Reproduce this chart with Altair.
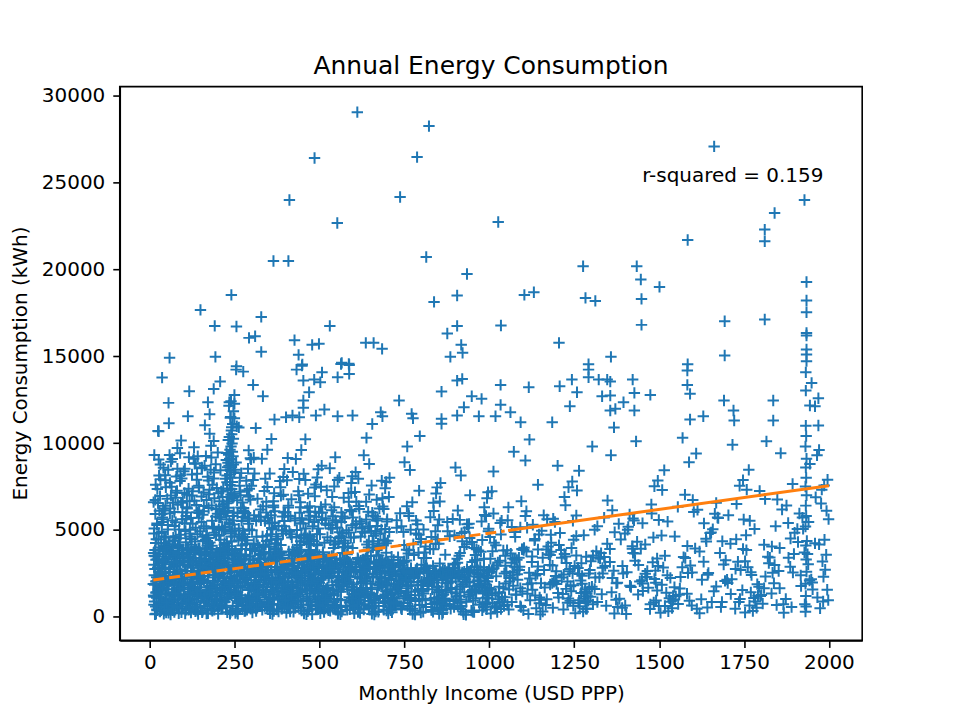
import altair as alt
import pandas as pd

# individually readable points, upper part of the plot (income, kWh)
upper_pts = [
    (611, 29040), (822, 28236), (485, 26400), (787, 26455), (411, 23983), (737, 24155),
    (552, 22661), (364, 20477), (408, 20477), (814, 20707), (934, 19730), (240, 18523),
    (905, 18487), (837, 18120), (149, 17661), (191, 16741), (255, 16705), (328, 17259),
    (530, 16741), (905, 16741), (876, 16303), (292, 16052), (310, 16149), (426, 15920),
    (478, 15650), (498, 15707), (636, 15765), (659, 15765), (684, 15420), (917, 15650),
    (921, 15190), (885, 14960), (58, 14903), (193, 14960), (328, 15247), (438, 15075),
    (449, 14520), (565, 14615), (586, 14557), (255, 14425),
    (1662, 27069), (1928, 23983), (1840, 23236), (1811, 22282), (1811, 21609), (1026, 22718),
    (1584, 21684), (1276, 20172), (1434, 20172), (1446, 19408), (1501, 18983), (1934, 19270),
    (1103, 18523), (1131, 18678), (1283, 18351), (1312, 18178), (1448, 18293), (1934, 18201),
    (1934, 17529), (1034, 16764), (1448, 16800), (1693, 17011), (1811, 17109), (1934, 16339),
    (1934, 16190), (1205, 15765), (1358, 14960), (1693, 15040), (1934, 15385), (1934, 15098),
    (1934, 14713), (1292, 14540), (1584, 14540),
]

mid_pts = [
    (36, 13766), (254, 14225), (275, 14110), (207, 13536), (188, 13116), (304, 13346),
    (116, 12979), (333, 12692), (249, 12772), (55, 12312), (171, 12347), (234, 12347),
    (249, 12255), (112, 11543), (176, 11658), (249, 11428), (56, 11141), (26, 10682),
    (241, 10912), (256, 10969), (432, 14225), (448, 14455), (452, 13594), (484, 13651),
    (502, 13497), (507, 14070), (469, 12921), (452, 12445), (452, 12025), (514, 11929),
    (563, 14551), (587, 14494), (587, 13978), (553, 13785), (734, 12445), (771, 11681),
    (775, 11428), (680, 11773), (685, 11543), (597, 11583), (553, 11543), (489, 11583),
    (401, 11486), (420, 11583), (440, 11486), (367, 11354), (859, 12962), (905, 13594),
    (920, 13691), (948, 12692), (977, 12543), (925, 12060), (905, 11583), (969, 11543),
    (859, 11394), (859, 11107),
    (1292, 14225), (1292, 13783), (1322, 13651), (1347, 13651), (1356, 13536), (1422, 13651),
    (1243, 13651), (1207, 13266), (1116, 13209), (1033, 13346), (1583, 14168), (1583, 13346),
    (1591, 12830), (1474, 12772), (1427, 12887), (1356, 12732), (1332, 12692), (1258, 12921),
    (1237, 12117), (1033, 12198), (1062, 11773), (1018, 11543), (1092, 11199), (1395, 12347),
    (1371, 11968), (1427, 11871), (1356, 11871), (1691, 12445), (1719, 11871), (1721, 11296),
    (1630, 11543), (1591, 11354), (1836, 12445), (1836, 11296), (1932, 14070), (1932, 13019),
    (1949, 13461), (1969, 12577), (1944, 12158), (1959, 12117), (1969, 11009),
]

# dense lower part, estimated band by band
band_a = [
    (12, 1150), (15, 150), (18, 2040), (21, 420), (24, 1580), (27, 760), (30, 310), (33, 520),
    (36, 2610), (39, 890), (42, 3120), (45, 1330), (48, 240), (11, 3680), (14, 1840), (17, 4250),
    (20, 2280), (23, 610), (26, 4830), (29, 2950), (32, 1040), (35, 5460), (38, 3470), (41, 180),
    (44, 6120), (47, 3890), (13, 5080), (16, 6730), (19, 1420), (22, 7350), (25, 4450), (28, 350),
    (31, 7920), (34, 2400), (37, 5710), (40, 8580), (43, 1960), (46, 6390), (49, 950), (13, 9310),
    (18, 3290), (24, 10700), (30, 6950), (36, 470), (42, 4620), (47, 7460), (15, 2760), (21, 5370),
    (27, 8130), (33, 1690), (39, 3940), (45, 2170), (12, 700), (20, 1100), (28, 1500), (37, 2830),
    (44, 360), (26, 9050), (50, 4060), (16, 5920),
]
band_b = [
    (52, 1790), (55, 230), (58, 2330), (61, 680), (64, 1210), (67, 380), (70, 2890), (73, 940),
    (76, 3450), (79, 1560), (82, 4070), (85, 210), (88, 2160), (91, 4720), (94, 1030), (97, 3260),
    (53, 5280), (56, 2580), (59, 5940), (62, 560), (65, 3810), (68, 6570), (71, 1380), (74, 4390),
    (77, 7140), (80, 2720), (83, 830), (86, 5030), (89, 7810), (92, 1920), (95, 5610), (98, 3590),
    (54, 8460), (57, 1010), (60, 6240), (63, 3020), (66, 9080), (69, 4560), (72, 270), (75, 6860),
    (78, 1650), (81, 9720), (84, 3980), (87, 480), (90, 8150), (93, 2470), (96, 6020), (99, 1240),
    (58, 4180), (71, 2050), (83, 1500), (95, 760), (64, 7490), (88, 3370), (76, 5450), (61, 130),
    (92, 10150), (68, 2210), (80, 3050), (55, 1870),
]
band_c = [
    (101, 1860), (104, 190), (107, 2450), (110, 740), (113, 3570), (116, 1290), (119, 430),
    (122, 4150), (125, 980), (128, 3010), (131, 1620), (134, 320), (137, 2190), (140, 4760),
    (143, 1180), (146, 3360), (149, 580), (102, 5380), (105, 2640), (108, 6010), (111, 870),
    (114, 3880), (117, 6650), (120, 1450), (123, 4470), (126, 7230), (129, 2830), (132, 690),
    (135, 5120), (138, 7890), (141, 2010), (144, 5700), (147, 3650), (103, 8520), (106, 1070),
    (109, 6310), (112, 3140), (115, 9180), (118, 4630), (121, 240), (124, 6980), (127, 1710),
    (130, 9760), (133, 4020), (136, 530), (139, 8230), (142, 2520), (145, 6120), (148, 1340),
    (110, 2280), (122, 1900), (134, 1550), (146, 2370), (118, 5010), (128, 3210), (140, 360),
    (106, 4290), (132, 8810), (144, 7540), (113, 1020),
]
band_d = [
    (151, 1930), (154, 260), (157, 2510), (160, 810), (163, 3640), (166, 1370), (169, 470),
    (172, 4230), (175, 1050), (178, 3080), (181, 1700), (184, 350), (187, 2260), (190, 4840),
    (193, 1240), (196, 3430), (199, 640), (152, 5460), (155, 2700), (158, 6080), (161, 930),
    (164, 3950), (167, 6720), (170, 1520), (173, 4540), (176, 7310), (179, 2900), (182, 750),
    (185, 5190), (188, 7960), (191, 2080), (194, 5780), (197, 3720), (153, 8600), (156, 1130),
    (159, 6380), (162, 3210), (165, 9250), (168, 4700), (171, 200), (174, 7050), (177, 1780),
    (180, 9840), (183, 4090), (186, 590), (189, 8310), (192, 2590), (195, 6190), (198, 1410),
    (158, 2350), (170, 1960), (182, 1600), (194, 2420), (166, 5080), (178, 3280), (190, 410),
    (156, 4360), (176, 10540), (188, 10120), (162, 11030), (184, 7600), (198, 2980), (174, 1180),
    (160, 3540),
]
band_e = [
    (201, 180), (224, 550), (209, 920), (238, 1290), (215, 1660), (246, 2030), (203, 2400),
    (231, 2770), (219, 3140), (242, 3510), (207, 3880), (227, 4250), (249, 4620), (212, 4990),
    (235, 5360), (204, 5730), (229, 6100), (217, 6470), (244, 6840), (210, 7210), (236, 7580),
    (222, 7950), (248, 8320), (233, 8690), (240, 9060), (226, 9430), (239, 9800), (231, 10170),
    (243, 360), (206, 730), (228, 1100), (249, 1470), (213, 1840), (237, 2210), (202, 2580),
    (225, 2950), (245, 3320), (218, 3690), (234, 4060), (208, 4430), (241, 4800), (221, 5170),
    (247, 5540), (211, 5910), (232, 6280), (205, 6650), (239, 7020), (216, 7390), (243, 7760),
    (227, 8130), (237, 8500), (230, 8870), (245, 9240), (236, 9610), (242, 9980), (234, 10350),
    (240, 10720), (244, 11090), (237, 11460), (246, 11830), (233, 12150), (239, 12400),
    (223, 1950), (207, 3420), (240, 4900), (214, 6360), (248, 2120), (230, 3600), (203, 5050),
    (226, 6540), (237, 260), (211, 1540), (244, 2850), (219, 4150), (234, 5420), (249, 7100),
    (238, 8400), (204, 590), (232, 1810), (216, 3050), (241, 4330), (226, 5600), (247, 6900),
    (235, 8200), (210, 480), (228, 1720), (246, 2990), (220, 4260), (243, 9500), (212, 700),
    (236, 1380), (202, 2290), (241, 10500), (238, 11500), (246, 10250), (235, 9100), (229, 7280),
    (214, 3960),
]
band_f = [
    (252, 220), (275, 690), (260, 1240), (288, 1810), (255, 2380), (297, 460), (268, 2960),
    (281, 1020), (258, 3520), (292, 1580), (271, 4110), (253, 300), (285, 2150), (264, 4720),
    (299, 1190), (277, 3310), (256, 620), (290, 5350), (269, 2600), (282, 5970), (261, 880),
    (295, 3840), (273, 6580), (254, 1430), (287, 4410), (266, 7200), (279, 2790), (298, 740),
    (262, 5080), (284, 7830), (257, 2000), (293, 5660), (270, 3590), (251, 8470), (289, 1090),
    (276, 6260), (263, 3080), (296, 9120), (280, 4590), (259, 170), (291, 6920), (272, 1670),
    (286, 400), (265, 8000), (294, 2480), (278, 6030), (253, 1350), (283, 2200), (267, 1750),
    (300, 2640), (274, 4950), (258, 3170), (291, 9580), (262, 10900), (284, 440), (270, 5520),
]
band_g = [
    (302, 250), (347, 720), (318, 1280), (371, 1850), (335, 2420), (389, 480), (308, 3000),
    (362, 1060), (326, 3560), (395, 1620), (341, 4150), (313, 330), (378, 2190), (356, 4760),
    (321, 1230), (384, 3350), (305, 640), (352, 5390), (331, 2640), (398, 6010), (316, 900),
    (367, 3870), (343, 6620), (310, 1470), (375, 4450), (337, 7240), (391, 2830), (324, 770),
    (359, 5110), (304, 7880), (381, 2040), (348, 5700), (329, 3630), (396, 8510), (314, 1110),
    (364, 6300), (339, 3120), (306, 9160), (372, 4630), (354, 210), (386, 6960), (319, 1710),
    (345, 560), (393, 8040), (311, 2520), (368, 6070), (333, 1380), (380, 2260), (323, 1790),
    (357, 2680), (301, 4990), (376, 3200), (346, 9620), (312, 10860), (388, 470), (327, 5560),
    (361, 160), (394, 1000), (315, 1540), (350, 2090), (383, 2450), (336, 3700), (369, 4210),
    (303, 880), (374, 3870), (342, 1440), (399, 1980), (320, 2820), (365, 340), (330, 9100),
    (385, 7460), (353, 8250), (307, 5840), (379, 5230), (344, 4370), (317, 6790), (392, 4780),
    (325, 2960), (360, 3420), (387, 1200), (338, 590), (370, 2730), (309, 3780), (355, 1920),
    (397, 3020), (332, 4620), (363, 1520), (377, 690), (349, 3260), (322, 980), (390, 5780),
    (340, 7950), (366, 7110), (358, 10240), (328, 2300), (382, 2060), (351, 4040), (373, 1660),
    (334, 1850), (319, 3350), (396, 2330), (305, 1790), (361, 5030), (386, 4130), (344, 820),
]
band_h = [
    (402, 230), (447, 690), (418, 1260), (471, 1830), (435, 2400), (489, 450), (408, 2980),
    (462, 1040), (426, 3540), (495, 1600), (441, 4130), (413, 300), (478, 2170), (456, 4740),
    (421, 1210), (484, 3330), (405, 620), (452, 5370), (431, 2620), (498, 5990), (416, 880),
    (467, 3850), (443, 6600), (410, 1450), (475, 4430), (437, 7220), (491, 2810), (424, 750),
    (459, 5090), (404, 7860), (481, 2020), (448, 5680), (429, 3610), (496, 8490), (414, 1090),
    (464, 6280), (439, 3100), (406, 9140), (472, 4610), (454, 190), (486, 6940), (419, 1690),
    (445, 540), (493, 8020), (411, 2500), (468, 6050), (433, 1360), (480, 2240), (423, 1770),
    (457, 2660), (401, 4970), (476, 3180), (446, 9600), (412, 480), (488, 870), (427, 5540),
    (461, 150), (494, 980), (415, 1520), (450, 2070), (483, 2430), (436, 3680), (469, 4190),
    (403, 860), (474, 3850), (442, 1420), (499, 1960), (420, 2800), (465, 320), (430, 9080),
    (485, 7440), (453, 8230), (407, 5820), (479, 5210), (444, 4350), (417, 6770), (492, 4760),
    (425, 2940), (460, 3400), (487, 1180), (438, 570), (470, 2710), (409, 3760), (455, 1900),
    (497, 3000), (432, 4600), (463, 1500), (477, 670), (449, 3240), (422, 960), (490, 5760),
    (440, 7930), (466, 7090), (458, 10220), (428, 2280),
]
band_i = [
    (502, 210), (547, 650), (518, 1190), (571, 1740), (535, 2290), (589, 430), (508, 2850),
    (562, 990), (526, 3390), (595, 1530), (541, 3960), (513, 280), (578, 2070), (556, 4540),
    (521, 1150), (584, 3180), (505, 590), (552, 5130), (531, 2500), (598, 5720), (516, 840),
    (567, 3680), (543, 6300), (510, 1380), (575, 4230), (537, 6900), (591, 2680), (524, 720),
    (559, 4870), (504, 7480), (581, 1930), (548, 5440), (529, 3450), (596, 8090), (514, 1040),
    (564, 6000), (539, 2960), (506, 8700), (572, 4400), (554, 180), (586, 6620), (519, 1610),
    (545, 510), (593, 7700), (511, 2390), (568, 5780), (533, 1300), (580, 2140), (523, 1690),
    (557, 2540), (501, 4750), (576, 3040), (546, 9180), (512, 460), (588, 830), (527, 5290),
    (561, 140), (594, 940), (515, 1450), (550, 1980), (583, 2330), (536, 3510), (569, 4010),
    (503, 820), (574, 3680), (542, 1360), (599, 1870), (520, 2680), (565, 310), (530, 8550),
    (585, 7120), (553, 7870), (507, 5570), (579, 4990), (544, 4160), (517, 6470), (592, 4560),
    (525, 2810), (560, 3250), (587, 1130), (538, 550), (570, 2590), (509, 3590), (555, 1820),
    (597, 2870), (532, 4400), (563, 1440), (577, 640), (549, 3100), (522, 920),
]
band_j = [
    (602, 200), (647, 620), (618, 1140), (671, 1670), (635, 2200), (689, 410), (608, 2730),
    (662, 950), (626, 3260), (695, 1470), (641, 3800), (613, 270), (678, 1990), (656, 4350),
    (621, 1110), (684, 3050), (605, 570), (652, 4920), (631, 2400), (698, 5490), (616, 810),
    (667, 3530), (643, 6050), (610, 1320), (675, 4060), (637, 6620), (691, 2570), (624, 690),
    (659, 4670), (604, 7180), (681, 1850), (648, 5220), (629, 3310), (696, 7760), (614, 1000),
    (664, 5770), (639, 2840), (606, 8330), (672, 4220), (654, 170), (686, 6350), (619, 1540),
    (645, 490), (693, 7400), (611, 2290), (668, 5550), (633, 1250), (680, 2050), (623, 1620),
    (657, 2440), (601, 4560), (676, 2920), (646, 8800), (612, 440), (688, 800), (627, 5080),
    (661, 130), (694, 900), (615, 1390), (650, 1900), (683, 2240), (636, 3370), (669, 3850),
    (603, 790), (674, 3530), (642, 1310), (699, 1800), (620, 2570), (665, 300), (630, 9300),
    (685, 6830), (653, 7560), (607, 5340), (679, 4790), (644, 3990), (617, 6210), (692, 4380),
    (625, 2700), (660, 3120), (687, 1080), (638, 10300), (655, 11100),
]
band_k = [
    (702, 190), (767, 600), (718, 1090), (801, 1600), (735, 2110), (829, 390), (708, 2620),
    (782, 910), (746, 3130), (845, 1410), (761, 3650), (713, 260), (818, 1910), (776, 4180),
    (721, 1060), (834, 2930), (705, 550), (792, 4720), (751, 2300), (848, 5270), (716, 780),
    (807, 3390), (763, 5800), (710, 1270), (825, 3900), (757, 6360), (841, 2470), (724, 660),
    (799, 4480), (704, 6900), (821, 1780), (768, 5010), (749, 3180), (846, 7450), (714, 960),
    (784, 5540), (759, 2730), (706, 8000), (812, 4050), (774, 160), (836, 6090), (739, 1480),
    (765, 470), (843, 7100), (711, 2200), (788, 5330), (753, 1200), (820, 1970), (723, 1560),
    (777, 2340), (701, 4380), (816, 2800), (766, 8450), (712, 420), (838, 770), (747, 4880),
    (781, 130), (844, 860), (715, 1330), (770, 1820), (823, 2150), (756, 3240), (809, 3700),
    (703, 760), (814, 3390), (762, 1260), (849, 1730), (740, 2470), (805, 290), (750, 8900),
    (835, 6560), (793, 7260), (727, 5130), (829, 4600), (764, 3830), (737, 5960), (842, 4210),
    (745, 2590), (800, 3000), (827, 1040), (758, 9800), (795, 10400), (731, 3430), (787, 2620),
    (719, 1880), (852, 5600), (773, 6600), (803, 1500),
]
band_l = [
    (852, 180), (917, 580), (868, 1050), (951, 1540), (885, 2030), (979, 370), (858, 2520),
    (932, 870), (896, 3010), (995, 1350), (911, 3510), (863, 250), (968, 1830), (926, 4020),
    (871, 1020), (984, 2820), (855, 530), (942, 4540), (901, 2210), (998, 5070), (866, 750),
    (957, 3260), (913, 5580), (860, 1220), (975, 3750), (907, 6120), (991, 2380), (874, 630),
    (949, 4310), (854, 6640), (971, 1710), (918, 4820), (899, 3060), (996, 7170), (864, 920),
    (934, 5330), (909, 2620), (856, 7700), (962, 3890), (924, 150), (986, 5860), (889, 1420),
    (915, 450), (993, 6830), (861, 2120), (938, 5120), (903, 1150), (970, 1890), (873, 1500),
    (927, 2250), (851, 4210), (966, 2690), (916, 8130), (862, 400), (988, 740), (897, 4690),
    (931, 120), (994, 830), (865, 1280), (920, 1750), (973, 2070), (906, 3110), (959, 3560),
    (853, 730), (964, 3260), (912, 1210), (999, 1660), (890, 2380), (955, 280), (900, 8600),
    (985, 6300), (943, 7000), (877, 4930), (979, 4420), (914, 3680),
]
band_m = [
    (1004, 190), (1091, 620), (1037, 1150), (1163, 1690), (1062, 2230), (1218, 430),
    (1010, 2760), (1120, 960), (1075, 3300), (1241, 1480), (1101, 3850), (1023, 280),
    (1190, 2010), (1133, 4400), (1046, 1130), (1227, 3100), (1015, 590), (1154, 4960),
    (1082, 2450), (1246, 5520), (1030, 830), (1175, 3600), (1109, 6080), (1018, 1340),
    (1205, 4130), (1094, 6650), (1236, 2620), (1053, 700), (1146, 4740), (1007, 7220),
    (1198, 1890), (1128, 5300), (1069, 3360), (1244, 7790), (1026, 1020), (1160, 5850),
    (1089, 2890), (1012, 8360), (1182, 4270), (1115, 170), (1224, 6420), (1058, 1570),
    (1138, 500), (1233, 7460), (1020, 2330), (1170, 5610), (1079, 1270), (1196, 2080),
    (1041, 1650), (1141, 2470), (1002, 4600), (1186, 2950), (1106, 9000), (1034, 450),
    (1230, 810), (1066, 5170), (1150, 140), (1238, 920), (1028, 1410), (1124, 1930),
    (1213, 2270), (1087, 3400), (1168, 3880), (1009, 780), (1179, 3560), (1112, 1330),
    (1248, 1820), (1050, 2590), (1157, 310), (1072, 9500), (1221, 6900), (1143, 7600),
    (1032, 5400), (1208, 4830), (1118, 10200), (1185, 11200), (1096, 3900), (1056, 6300),
    (1201, 8700),
]
band_n = [
    (1253, 210), (1344, 640), (1289, 1180), (1417, 1720), (1312, 2270), (1473, 450),
    (1261, 2810), (1373, 980), (1326, 3350), (1494, 1510), (1355, 3900), (1276, 300),
    (1443, 2040), (1387, 4450), (1298, 1160), (1481, 3140), (1266, 610), (1407, 5010),
    (1334, 2490), (1499, 5570), (1283, 850), (1428, 3640), (1362, 6130), (1270, 1370),
    (1459, 4170), (1348, 6700), (1489, 2660), (1305, 720), (1399, 4790), (1258, 7270),
    (1451, 1920), (1381, 5350), (1321, 3410), (1496, 7840), (1279, 1050), (1413, 5900),
    (1341, 2930), (1264, 8410), (1435, 4320), (1368, 190), (1477, 6470), (1310, 1600),
    (1391, 520), (1486, 7510), (1273, 2360), (1423, 5660), (1331, 1300), (1449, 2110),
    (1294, 1680), (1394, 2500), (1256, 4650), (1439, 2980), (1358, 9300), (1287, 470),
    (1484, 830), (1318, 5220), (1403, 160), (1491, 940), (1281, 1440), (1377, 1960),
    (1464, 2300), (1338, 3440), (1421, 3920), (1262, 800), (1432, 10100), (1367, 10900),
    (1303, 9800),
]
band_o = [
    (1504, 230), (1596, 660), (1541, 1200), (1668, 1750), (1563, 2300), (1724, 470),
    (1512, 2840), (1624, 1010), (1577, 3390), (1745, 1540), (1606, 3940), (1527, 320),
    (1694, 2070), (1638, 4490), (1549, 1180), (1732, 3170), (1517, 630), (1658, 5040),
    (1585, 2520), (1749, 5600), (1534, 870), (1679, 3680), (1613, 6160), (1521, 1390),
    (1710, 4210), (1599, 6730), (1740, 2690), (1556, 740), (1650, 4820), (1509, 7300),
    (1702, 1950), (1632, 5380), (1572, 3440), (1747, 7870), (1530, 1070), (1664, 5930),
    (1592, 2960), (1515, 8440), (1686, 4350), (1619, 210), (1728, 6500), (1561, 1630),
    (1642, 540), (1737, 7540), (1524, 2390), (1674, 5690), (1582, 1330), (1700, 2140),
    (1545, 1710), (1645, 2530), (1507, 4680), (1690, 3010), (1609, 9400), (1538, 500),
    (1735, 860), (1569, 10300), (1716, 9900), (1655, 850), (1588, 8900),
]
band_p = [
    (1753, 250), (1846, 680), (1791, 1220), (1918, 1770), (1813, 2320), (1974, 490),
    (1761, 2860), (1873, 1030), (1826, 3410), (1995, 1560), (1855, 3960), (1776, 340),
    (1943, 2090), (1887, 4510), (1798, 1200), (1981, 3190), (1766, 650), (1907, 5060),
    (1834, 2540), (1999, 5620), (1783, 890), (1928, 3700), (1862, 6180), (1770, 1410),
    (1959, 4230), (1848, 6750), (1989, 2710), (1805, 760), (1899, 4840), (1758, 7320),
    (1951, 1970), (1880, 5400), (1820, 3460), (1996, 7890), (1779, 1090), (1913, 5950),
    (1840, 2980), (1764, 8460), (1935, 4370), (1867, 230), (1977, 6520), (1809, 1650),
    (1890, 560), (1986, 7560), (1772, 2410), (1922, 5710), (1831, 1350), (1948, 2160),
    (1794, 1730), (1894, 2550), (1756, 4700), (1939, 3030), (1858, 9420), (1787, 520),
    (1983, 880), (1816, 10100), (1965, 9300), (1932, 11000), (1933, 10400), (1931, 9800),
    (1934, 9100), (1932, 8600), (1933, 8000), (1931, 7500), (1934, 7000), (1932, 6400),
    (1933, 5800), (1931, 5200), (1932, 4100), (1933, 3300), (1934, 2600), (1931, 1900),
    (1932, 1200), (1933, 600), (1931, 300), (1993, 6100), (1971, 9600), (1944, 8800),
]

# the near-solid block at low consumption
fill_1 = [
    (14, 880), (37, 2210), (63, 470), (88, 3050), (119, 1340), (142, 160), (171, 2680),
    (196, 990), (223, 3370), (247, 1760), (22, 3310), (49, 1270), (71, 2940), (97, 610),
    (126, 1980), (153, 3590), (181, 420), (208, 2470), (232, 1110), (19, 2050), (41, 3770),
    (66, 1420), (93, 260), (111, 2890), (138, 1070), (164, 3240), (189, 1850), (214, 540),
    (240, 2320), (28, 690), (55, 1590), (80, 3440), (104, 2160), (131, 830), (157, 2530),
    (185, 3910), (205, 1620), (229, 3020), (11, 1230), (33, 370), (59, 2820), (84, 1840),
    (108, 3670), (135, 520), (160, 1290), (192, 2960), (217, 3780), (244, 640), (26, 2590),
    (52, 3960), (75, 1150), (101, 1690), (127, 3160), (149, 2300), (176, 740), (200, 3460),
    (226, 2060), (16, 3480), (43, 560), (68, 3590), (95, 2330), (116, 1810), (144, 2990),
    (168, 1560), (194, 1210), (219, 1390), (245, 3280), (31, 1880), (57, 780), (82, 2560),
    (107, 410), (133, 3820), (158, 2170), (183, 2860), (210, 3110), (236, 170), (13, 2390),
    (46, 2760), (72, 1950), (99, 3830), (121, 3000), (147, 1710), (174, 3360), (199, 2040),
    (221, 860), (249, 2580), (35, 3100), (61, 2060), (86, 1290), (113, 3480), (140, 2830),
    (166, 880), (187, 2400), (212, 1330), (238, 2690), (24, 1470), (50, 1990), (77, 2390),
    (103, 1170), (129, 3700), (155, 350), (179, 3890), (203, 3260), (231, 1580), (17, 600),
    (40, 3220), (64, 3740), (91, 1620), (117, 570), (143, 3930), (169, 1090), (193, 3650),
    (216, 2240), (242, 3840), (29, 3800), (54, 390), (79, 1840), (105, 2620), (132, 2410),
    (162, 3120), (186, 1960), (211, 2900), (234, 2730), (12, 3000), (38, 1640), (65, 960),
    (90, 2710), (115, 950), (139, 1450), (167, 2810), (191, 600), (218, 3570), (241, 1240),
    (23, 2840), (48, 3330), (73, 2560), (98, 3160), (124, 2640), (151, 1080), (177, 1700),
    (202, 2810), (225, 1010), (248, 3630), (34, 1110), (58, 2350), (83, 1690), (110, 3940),
    (136, 3150), (163, 3750), (188, 2980), (213, 3840), (237, 1960), (18, 1390), (44, 2500),
    (69, 650), (94, 3700), (120, 2310), (146, 3940), (172, 1370), (198, 3680), (222, 1730),
    (246, 2820), (27, 3600), (53, 760), (78, 3200), (102, 2990), (128, 1890), (154, 3020),
    (180, 1270), (206, 2350), (233, 3910), (15, 3840), (42, 1960), (67, 2180), (92, 820),
    (118, 3360), (145, 2400), (170, 3920), (195, 1580), (220, 3420), (243, 2070), (32, 2450),
    (60, 3600), (87, 3930), (112, 1590), (137, 3880), (161, 640), (184, 3640), (209, 700),
    (235, 1870), (21, 380), (47, 3650), (74, 3520), (100, 1990), (125, 770), (150, 2870),
    (175, 2560), (201, 3560), (228, 2510), (250, 1080),
]
fill_2 = [
    (256, 1340), (281, 350), (305, 2710), (333, 1590), (358, 3120), (384, 720), (409, 2280),
    (437, 3480), (462, 1060), (488, 2650), (263, 2950), (289, 1820), (316, 560), (341, 3330),
    (367, 1280), (392, 2460), (418, 810), (444, 1970), (471, 3610), (495, 430), (252, 3700),
    (277, 2240), (302, 1030), (328, 2890), (353, 470), (379, 3750), (404, 1590), (430, 2650),
    (455, 3280), (481, 1350), (270, 1080), (295, 3460), (321, 2120), (346, 880), (372, 1940),
    (397, 3050), (423, 290), (449, 1480), (474, 2330), (499, 3560), (259, 620), (285, 2580),
    (310, 3820), (336, 2320), (361, 720), (387, 1660), (412, 3210), (438, 1170), (463, 2880),
    (490, 1880), (267, 3370), (292, 1240), (318, 1810), (343, 3020), (369, 2690), (394, 910),
    (420, 2560), (446, 3750), (472, 700), (497, 2230), (254, 2130), (280, 3040), (306, 1460),
    (331, 400), (356, 2870), (382, 3640), (407, 620), (433, 2000), (458, 1590), (484, 3200),
    (273, 470), (299, 1840), (324, 3340), (350, 1130), (375, 2580), (401, 1350), (426, 3700),
    (452, 940), (477, 1730), (493, 3000), (261, 1780), (287, 2790), (313, 960), (338, 1970),
    (364, 3460), (389, 2020), (415, 1000), (440, 3100), (466, 2490), (491, 590), (257, 2580),
    (283, 3500), (308, 2100), (334, 3660), (359, 1540), (385, 2830), (410, 3550), (436, 2820),
    (461, 3520), (487, 1490), (269, 3900), (294, 680), (320, 2600), (345, 1720), (371, 3230),
    (396, 570), (421, 1880), (447, 360), (473, 2860), (498, 1050), (264, 970), (290, 1550),
    (315, 3090), (340, 2560), (366, 990), (391, 3380), (417, 2430), (443, 1280), (468, 3270),
    (494, 2040), (255, 460), (279, 1960), (304, 3250), (329, 2360), (355, 3720), (381, 1130),
    (406, 2050), (432, 1650), (457, 2380), (483, 3580), (275, 2470), (301, 3900), (326, 680),
    (352, 2180), (377, 1500), (403, 2930), (428, 510), (454, 3000), (479, 2120), (500, 1640),
    (266, 2000), (291, 3060), (317, 1230), (342, 2250), (368, 3540), (393, 1440), (419, 3560),
    (445, 2540), (470, 1160), (496, 2860), (258, 1230), (284, 860), (311, 1960), (337, 3650),
    (362, 2210), (388, 3690), (413, 1220), (439, 2240), (465, 1910), (489, 3730), (272, 2830),
    (297, 2370), (323, 3990), (348, 2680), (374, 420), (399, 2260), (425, 3080), (450, 2600),
    (476, 1940), (492, 820), (262, 3210), (288, 580), (314, 2290), (339, 1270), (365, 2000),
    (390, 1100), (416, 1800), (442, 3860), (467, 900), (485, 2490),
]
fill_3 = [
    (505, 1380), (531, 350), (556, 2720), (582, 1590), (607, 3130), (633, 720), (658, 2290),
    (684, 3260), (709, 1070), (735, 2050), (512, 2960), (538, 1820), (563, 560), (589, 3140),
    (614, 1280), (640, 2470), (665, 810), (691, 1980), (716, 2940), (742, 430), (501, 3170),
    (527, 2240), (552, 1030), (578, 2610), (603, 470), (629, 3280), (654, 1590), (680, 2660),
    (705, 3040), (731, 1350), (520, 1080), (545, 3000), (571, 2130), (596, 880), (622, 1950),
    (647, 3050), (673, 290), (698, 1480), (724, 2340), (749, 3200), (509, 620), (535, 2580),
    (560, 3290), (586, 2320), (611, 720), (637, 1660), (662, 2840), (688, 1170), (713, 2890),
    (739, 1880), (517, 2500), (542, 1240), (568, 1810), (593, 3020), (619, 2690), (644, 910),
    (670, 2560), (695, 3150), (721, 700), (746, 2230), (504, 2130), (530, 2950), (555, 1460),
    (581, 400), (606, 2870), (632, 3240), (657, 620), (683, 2000), (708, 1590), (734, 2990),
    (523, 470), (549, 1840), (574, 3140), (600, 1130), (625, 2580), (651, 1350), (676, 3100),
    (702, 940), (727, 1730), (743, 2600), (511, 1780), (537, 2790), (562, 960), (588, 1970),
    (613, 3300), (639, 2020), (664, 1000), (690, 3100), (715, 2490), (741, 590), (507, 2580),
    (533, 3200), (558, 2100), (584, 2660), (609, 1540), (635, 2830), (660, 3150), (686, 2820),
    (711, 2400), (737, 1490), (519, 3300), (544, 680), (570, 2600), (595, 1720), (621, 3230),
    (646, 570), (672, 1880), (697, 360), (723, 2860), (748, 1050), (514, 970), (540, 1550),
    (565, 3090), (591, 2560), (616, 990), (642, 3180), (667, 2430), (693, 1280), (718, 3270),
    (744, 2040), (526, 2380), (551, 3020), (577, 2180), (602, 1500), (628, 2930), (653, 510),
    (679, 3000), (704, 2120), (729, 1640), (747, 800), (516, 1230), (541, 860), (567, 1960),
    (592, 2650), (618, 2210), (643, 2890), (669, 1220), (694, 2240), (720, 1910), (745, 2730),
    (528, 2830), (554, 2370), (579, 3300), (605, 2680), (630, 420), (656, 2260), (681, 3080),
    (707, 2600), (732, 1940), (738, 3100), (522, 3210), (548, 580), (573, 2290), (599, 1270),
    (624, 2000), (650, 1100), (675, 1800), (701, 3160), (726, 900), (703, 2490),
]
fill_4 = [
    (755, 1380), (781, 350), (806, 2720), (832, 1590), (857, 2580), (883, 720), (908, 2290),
    (934, 2760), (959, 1070), (985, 2050), (762, 2460), (788, 1820), (813, 560), (839, 2640),
    (864, 1280), (890, 2470), (915, 810), (941, 1980), (966, 2440), (992, 430), (751, 2670),
    (777, 2240), (802, 1030), (828, 2110), (853, 470), (879, 2780), (904, 1590), (930, 2160),
    (955, 2540), (981, 1350), (770, 1080), (795, 2500), (821, 2130), (846, 880), (872, 1950),
    (897, 2550), (923, 290), (948, 1480), (974, 2340), (999, 2700), (759, 620), (785, 2580),
    (810, 2790), (836, 2320), (861, 720), (887, 1660), (912, 2340), (938, 1170), (963, 2890),
    (989, 1880), (767, 2000), (792, 1240), (818, 1810), (843, 2520), (869, 2690), (894, 910),
    (920, 2560), (945, 2650), (971, 700), (996, 2230), (754, 2130), (780, 2450), (805, 1460),
    (831, 400), (856, 2370), (882, 2740), (907, 620), (933, 2000), (958, 1590), (984, 2490),
    (773, 470), (799, 1840), (824, 2640), (850, 1130), (875, 2580), (901, 1350), (926, 2600),
    (952, 940), (977, 1730), (993, 2600), (761, 1780), (787, 2790), (812, 960), (838, 1970),
    (863, 2300), (889, 2020), (914, 1000), (940, 2600), (965, 2490), (991, 590), (757, 2580),
    (783, 2700), (808, 2100), (834, 2160), (859, 1540), (885, 2330), (910, 2650), (936, 2320),
    (961, 1400), (987, 1490), (769, 2800), (794, 680), (820, 2600), (845, 1720), (871, 2230),
    (896, 570), (922, 1880), (947, 360), (973, 2860), (998, 1050), (764, 970), (790, 1550),
    (815, 2590), (841, 2560), (866, 990), (892, 2680), (917, 2430), (943, 1280), (968, 2270),
    (994, 2040), (776, 2380), (801, 2020), (827, 2180), (852, 1500),
]
fill_5 = [
    (1008, 1240), (1047, 3510), (1093, 560), (1136, 2380), (1181, 4720), (1226, 1610),
    (1271, 3090), (1318, 850), (1362, 2240), (1409, 5180), (1452, 1490), (1497, 2920),
    (1014, 4260), (1059, 2030), (1102, 3970), (1148, 1120), (1193, 5460), (1237, 2760),
    (1284, 470), (1329, 3670), (1374, 1930), (1421, 4060), (1465, 2640), (1021, 2950),
    (1066, 860), (1111, 5130), (1157, 3400), (1202, 1370), (1248, 4430), (1293, 2490),
    (1338, 5710), (1383, 1040), (1429, 3230), (1474, 720), (1029, 1730), (1074, 4880),
    (1119, 2210), (1166, 680), (1211, 3840), (1256, 5830), (1302, 1730), (1347, 4210),
    (1392, 2930), (1438, 1280), (1483, 4570), (1036, 5540), (1081, 3280), (1127, 1560),
    (1173, 4050), (1219, 2430), (1264, 950), (1310, 5010), (1355, 3150), (1400, 650),
    (1446, 3920), (1490, 1960), (1043, 620), (1088, 2690), (1134, 4480), (1179, 1860),
    (1224, 3470), (1269, 2090), (1315, 3780), (1360, 1420), (1405, 2560), (1451, 5390),
    (1494, 3360), (1052, 3830), (1097, 1460), (1143, 2900), (1188, 5650), (1233, 1050),
    (1278, 4700), (1324, 2280), (1369, 4870), (1414, 1790), (1459, 2480), (1478, 5940),
    (1061, 2360), (1106, 5800), (1152, 980), (1197, 2630), (1242, 3960), (1287, 1330),
    (1333, 2820), (1378, 570), (1423, 3680), (1468, 1670), (1499, 620), (1003, 3340),
    (1018, 560), (1070, 1790), (1125, 3150), (1185, 1940), (1245, 2510), (1305, 3530),
    (1366, 2650), (1426, 5550), (1486, 2180),
]
fill_6 = [
    (1508, 1850), (1546, 4630), (1589, 920), (1631, 3170), (1672, 5720), (1714, 2160),
    (1757, 3840), (1801, 1260), (1843, 5220), (1886, 2890), (1929, 730), (1971, 4170),
    (1517, 3520), (1559, 1270), (1602, 6040), (1643, 2420), (1685, 860), (1727, 4460),
    (1770, 2570), (1812, 6780), (1855, 1640), (1897, 3620), (1940, 5460), (1984, 2310),
    (1525, 5480), (1568, 2860), (1611, 460), (1653, 4860), (1696, 3250), (1738, 1030),
    (1781, 5060), (1823, 3090), (1866, 720), (1909, 4310), (1952, 1580), (1992, 3570),
    (1533, 2240), (1576, 7030), (1619, 3760), (1661, 1470), (1704, 5850), (1747, 3910),
    (1789, 1880), (1832, 4050), (1875, 6410), (1917, 2390), (1961, 6880), (1998, 960),
    (1541, 970), (1583, 4080), (1626, 2130), (1668, 6560), (1711, 1310), (1753, 3200),
    (1796, 7240), (1838, 1930), (1881, 3400), (1924, 5060), (1966, 1120), (1987, 4440),
    (1555, 6330), (1597, 2550), (1639, 4340), (1682, 560), (1725, 2760), (1767, 5530),
    (1809, 4150), (1852, 2640), (1893, 7650), (1937, 3610), (1979, 7320),
]
fill_mid = [
    (19, 4470), (46, 7860), (73, 5230), (97, 6650), (124, 8190), (148, 4920), (173, 6260),
    (197, 7420), (222, 5040), (246, 8760), (271, 4490), (296, 6740), (321, 5760), (346, 7470),
    (371, 4230), (396, 5520), (421, 8330), (446, 4690), (471, 6360), (496, 5080), (521, 7280),
    (546, 4340), (571, 6850), (596, 5270), (621, 4620), (646, 7040), (671, 5640), (696, 4240),
    (28, 6110), (55, 4340), (81, 8520), (107, 5810), (133, 4340), (158, 7160), (183, 5530),
    (208, 8440), (233, 6890), (258, 5960), (283, 4190), (308, 8250), (333, 6370), (358, 4440),
    (383, 7810), (408, 6400), (433, 5000), (458, 7870), (483, 4350), (508, 6000), (533, 5090),
    (558, 8010), (583, 4060), (608, 6620), (633, 4840), (658, 5820), (683, 7830), (35, 4890),
    (62, 6980), (88, 4520), (114, 7370), (139, 6020), (164, 4440), (189, 5110), (214, 6900),
    (239, 4630), (264, 7550), (289, 5650), (314, 4610), (339, 5510), (364, 6650), (389, 4980),
    (414, 5770), (439, 6990), (464, 4520), (489, 7620), (514, 4260), (539, 5790), (564, 5460),
    (589, 6150), (614, 7950), (639, 4170), (664, 4930), (689, 6200), (11, 6600), (40, 5610),
    (67, 4160), (94, 7960), (120, 4510), (145, 5970), (170, 8060), (195, 4710), (218, 6090),
    (243, 5320), (268, 6290), (293, 7370), (318, 4130), (343, 6000), (368, 5430), (393, 7030),
    (418, 4560), (443, 5380), (468, 5590), (493, 4120), (518, 5670), (543, 7500), (568, 4800),
    (593, 7120), (618, 5500), (643, 5180), (668, 6740), (693, 5050),
]
fill_7 = [
    (13, 3520), (39, 6240), (62, 8930), (85, 4170), (109, 7020), (134, 3390), (156, 5880),
    (179, 8470), (204, 4660), (227, 7740), (252, 3810), (276, 6120), (298, 9070), (21, 5290),
    (45, 8150), (70, 3160), (92, 6570), (117, 4800), (141, 9240), (165, 3670), (190, 6830),
    (213, 5190), (238, 8010), (261, 4400), (286, 7290), (17, 7600), (42, 4030), (66, 5540),
    (89, 9420), (113, 3930), (137, 6430), (161, 8700), (186, 3050), (209, 5720), (232, 9330),
    (257, 6710), (281, 3580), (26, 3990), (51, 6790), (76, 4640), (100, 8380), (126, 5360),
    (150, 3260), (173, 7850), (199, 5930), (222, 3640), (247, 6010), (269, 8270), (293, 5030),
    (31, 8760), (56, 3430), (80, 7250), (105, 4940), (129, 3780), (153, 8550), (177, 4280),
    (202, 7110), (225, 9020), (250, 4990), (273, 5750), (296, 3320), (35, 5920), (59, 7710),
    (84, 3670), (110, 6230), (135, 8840), (159, 5220), (182, 6410), (207, 3800), (230, 6650),
    (254, 8880), (278, 4760), (291, 6940), (12, 4800), (47, 4560), (72, 6030), (96, 3440),
    (121, 5690), (145, 7440), (169, 4090), (194, 8780), (218, 4990), (241, 7360), (265, 3560),
    (289, 8520), (24, 6550), (53, 5030), (78, 8070), (102, 7130), (131, 6680), (155, 4610),
    (181, 9170), (205, 6240), (229, 8610), (244, 5810), (267, 7000), (284, 4200), (33, 4250),
    (58, 9310), (82, 6450), (107, 5620), (129, 9090), (152, 6930), (176, 3500), (200, 9450),
    (223, 6000), (248, 3140), (271, 4590), (299, 7540),
]
fill_8 = [
    (306, 4220), (331, 2820), (357, 5840), (382, 3550), (408, 6290), (433, 4010), (459, 2680),
    (484, 5460), (510, 3720), (535, 6140), (561, 2940), (586, 4860), (612, 3380), (637, 5600),
    (663, 2760), (688, 4440), (313, 5520), (339, 3310), (364, 6410), (390, 2890), (415, 4750),
    (441, 5990), (466, 3530), (492, 4180), (517, 5370), (543, 2730), (568, 4020), (594, 6080),
    (619, 3150), (645, 4320), (670, 5230), (696, 3690), (319, 3060), (345, 4670), (370, 2610),
    (396, 5210), (421, 3880), (447, 3130), (472, 5820), (498, 2970), (523, 4580), (549, 3360),
    (574, 5680), (600, 2560), (625, 4900), (651, 3500), (676, 6230), (699, 2880), (326, 6180),
    (351, 3720), (377, 4480), (402, 2690), (428, 5660), (453, 4520), (479, 3040), (504, 6330),
    (530, 2830), (555, 4230), (581, 3600), (606, 5140), (632, 2620), (657, 3980), (682, 5030),
    (692, 2560), (334, 4060), (360, 5380), (385, 3230), (411, 4900), (436, 2520), (462, 4280),
    (487, 6050), (513, 3380), (538, 5080), (564, 4640), (589, 2780), (615, 6380), (640, 3820),
    (666, 4800), (678, 3270), (655, 6000), (303, 2650), (342, 2950), (368, 3940), (394, 6020),
    (419, 3340), (444, 6310), (470, 4650), (495, 3420), (521, 2660), (546, 5560), (572, 3240),
    (597, 3960), (623, 5380), (648, 2850), (673, 4120), (699, 5620),
]
fill_9 = [
    (18, 180), (58, 1050), (97, 1880), (138, 560), (176, 1470), (219, 2280), (259, 790),
    (299, 1660), (338, 2420), (379, 310), (418, 1240), (458, 2030), (499, 680), (539, 1560),
    (579, 2370), (619, 220), (660, 1130), (700, 1900), (740, 500), (781, 1440), (821, 2230),
    (861, 160), (902, 1020), (942, 1760), (983, 560), (29, 1360), (69, 2200), (108, 720),
    (149, 1490), (189, 2410), (228, 260), (269, 1110), (309, 1900), (349, 660), (389, 1520),
    (429, 2320), (469, 430), (509, 1210), (549, 2010), (589, 820), (629, 1620), (669, 2450),
    (709, 370), (749, 1150), (790, 1970), (830, 740), (870, 1560), (910, 2400), (951, 290),
    (991, 1100), (40, 2280), (80, 560), (119, 1250), (159, 2070), (198, 930), (239, 1740),
    (279, 330), (318, 1320), (358, 2150), (398, 960), (438, 1810), (478, 150), (518, 1020),
    (558, 1830), (598, 620), (638, 1450), (678, 2290), (718, 800), (758, 1640), (798, 240),
    (838, 1090), (878, 1930), (918, 620), (958, 1490), (996, 2280), (48, 820), (87, 1640),
    (126, 2460), (167, 190), (206, 1210), (246, 1990), (286, 570), (326, 2460), (366, 1390),
    (406, 510), (446, 2200), (486, 1370), (526, 380), (566, 2310), (606, 1310), (646, 900),
    (686, 1720), (726, 2370), (766, 420), (806, 1340), (846, 2160), (886, 470), (926, 1410),
    (966, 2100), (980, 840), (10, 1890), (34, 2520), (75, 1360), (114, 400), (154, 2150),
    (193, 1070), (234, 1880), (274, 2340), (313, 470), (354, 1050), (394, 1880), (434, 870),
    (474, 1570), (514, 2420), (554, 250), (594, 1040), (634, 2110), (674, 620), (714, 1380),
    (754, 2140), (794, 960), (834, 290), (874, 2240), (914, 1740), (954, 2030),
]
fill_10 = [
    (712, 3460), (741, 5220), (769, 2790), (797, 4310), (826, 5730), (854, 3070), (883, 4640),
    (911, 2630), (940, 5350), (968, 3820), (997, 4930), (1025, 3130), (1054, 5560), (1082, 2720),
    (705, 4880), (734, 3010), (762, 5960), (791, 3690), (819, 2580), (848, 4470), (876, 5460),
    (905, 3340), (933, 4180), (962, 2880), (990, 5800), (1019, 4120), (1047, 2940), (1076, 4600),
    (721, 2660), (749, 4130), (778, 3560), (806, 5020), (835, 3890), (863, 2730), (892, 5630),
    (920, 4350), (949, 3150), (977, 5480), (1006, 2600), (1034, 4740), (1063, 3640), (1091, 5150),
    (727, 5560), (756, 3860), (784, 4800), (813, 2950), (841, 4930), (870, 3570), (898, 2810),
    (927, 4890), (955, 3960), (984, 3340), (1012, 5950), (1041, 3820), (1069, 2570), (1097, 3880),
]
fill_11 = [
    (1005, 1560), (1031, 3230), (1057, 420), (1083, 2140), (1109, 3760), (1135, 1230),
    (1161, 2690), (1187, 520), (1213, 3400), (1239, 1760), (1265, 2470), (1291, 930),
    (1013, 2790), (1039, 880), (1065, 3110), (1091, 1650), (1117, 2540), (1143, 3880),
    (1169, 1010), (1195, 2350), (1221, 3620), (1247, 640), (1273, 1910), (1299, 3200),
    (1022, 600), (1048, 1920), (1074, 2880), (1100, 370), (1126, 3470), (1152, 1930),
    (1178, 2980), (1204, 1110), (1230, 2040), (1256, 3530), (1282, 1570), (1296, 2700),
    (1009, 3770), (1044, 2500), (1078, 1280), (1113, 1870), (1147, 780), (1182, 3740),
    (1216, 1310), (1251, 2930), (1285, 3460),
]

# fitted line: dashed first part, solid second part
dash_x = [10, 1045]
dash_y = [2126, 4940]
solid_x = [1055, 2000]
solid_y = [4968, 7546]

x_ticks = [0, 250, 500, 750, 1000, 1250, 1500, 1750, 2000]
y_ticks = [0, 5000, 10000, 15000, 20000, 25000, 30000]

rows = []
for group in [upper_pts, mid_pts, band_a, band_b, band_c, band_d, band_e, band_f, band_g,
              band_h, band_i, band_j, band_k, band_l, band_m, band_n, band_o, band_p,
              fill_1, fill_2, fill_3, fill_4, fill_5, fill_6, fill_mid, fill_7, fill_8,
              fill_9, fill_10, fill_11]:
    rows += group
points = pd.DataFrame(rows, columns=["income", "energy"])
dashed = pd.DataFrame({"income": dash_x, "energy": dash_y})
solid = pd.DataFrame({"income": solid_x, "energy": solid_y})
note = pd.DataFrame({"income": [1450], "energy": [25000], "label": ["r-squared = 0.159"]})

font = "DejaVu Sans"
x_enc = alt.X("income:Q", scale=alt.Scale(domain=[-88.7, 2098], nice=False, zero=False),
              axis=alt.Axis(values=x_ticks, format="d", title="Monthly Income (USD PPP)",
                            grid=False, tickSize=7, labelPadding=5, titleX=372, titleY=59,
                            titleBaseline="alphabetic"))
y_enc = alt.Y("energy:Q", scale=alt.Scale(domain=[-1355, 30511], nice=False, zero=False),
              axis=alt.Axis(values=y_ticks, format="d", title="Energy Consumption (kWh)",
                            grid=False, tickSize=7, labelPadding=8, titleX=-93, titleY=277,
                            titleAngle=270, titleBaseline="alphabetic"))

scatter = alt.Chart(points).mark_point(
    shape="M-1,0H1M0,-1V1", filled=False, size=130, strokeWidth=2,
    color="#1f77b4", opacity=1
).encode(x=x_enc, y=y_enc)

fit_dashed = alt.Chart(dashed).mark_line(
    color="#ff7f0e", strokeWidth=3, strokeDash=[11, 5]
).encode(x="income:Q", y="energy:Q")

fit_solid = alt.Chart(solid).mark_line(
    color="#ff7f0e", strokeWidth=3
).encode(x="income:Q", y="energy:Q")

label = alt.Chart(note).mark_text(
    align="left", baseline="alphabetic", fontSize=20, font=font, color="black"
).encode(x="income:Q", y="energy:Q", text="label:N")

chart = alt.layer(scatter, fit_dashed, fit_solid, label).properties(
    width=744, height=555,
    title=alt.TitleParams("Annual Energy Consumption", fontSize=25, font=font,
                          fontWeight="normal", color="black", offset=-13,
                          baseline="alphabetic", anchor="middle"),
    autosize="none",
    padding={"left": 112, "top": 78, "right": 90, "bottom": 70},
).configure_view(
    stroke="black", strokeWidth=1.6
).configure_axis(
    domainColor="black", domainWidth=1.6, tickColor="black", tickWidth=1.6,
    labelFont=font, labelFontSize=20, labelColor="black",
    titleFont=font, titleFontSize=20, titleFontWeight="normal", titleColor="black"
)

chart.save("out.html", embed_options={"renderer": "svg", "actions": False})
